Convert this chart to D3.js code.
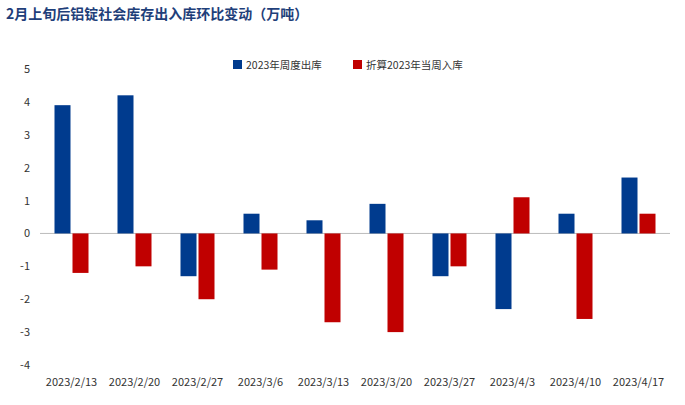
<!DOCTYPE html>
<html><head><meta charset="utf-8">
<script src="https://cdn.jsdelivr.net/npm/d3@7"></script>
<style>body{margin:0;background:#fff;font-family:"Noto Sans CJK SC","Noto Sans",sans-serif}</style>
</head><body><svg id="c" width="685" height="405"></svg>
<script>
const categories=["2023/2/13","2023/2/20","2023/2/27","2023/3/6","2023/3/13","2023/3/20","2023/3/27","2023/4/3","2023/4/10","2023/4/17"];
const outbound=[3.9,4.2,-1.3,0.6,0.4,0.9,-1.3,-2.3,0.6,1.7];
const inbound=[-1.2,-1.0,-2.0,-1.1,-2.7,-3.0,-1.0,1.1,-2.6,0.6];
const seriesNames=["2023年周度出库","折算2023年当周入库"];
const yTicks=[5,4,3,2,1,0,-1,-2,-3,-4];
const colors=["#003b8e","#c00000"];
const svg=d3.select("#c");
svg.append("text").attr("x",6).attr("y",19).attr("font-size",14).attr("font-weight","bold").attr("fill","#1f3f7a").text("2月上旬后铝锭社会库存出入库环比变动（万吨）");
const x=d3.scaleBand().domain(categories).range([40,670]);
const y=d3.scaleLinear().domain([-4,5]).range([365,69]);
svg.append("g").selectAll("text").data(yTicks).join("text").attr("x",30).attr("y",d=>y(d)+4).attr("text-anchor","end").attr("font-size",11).attr("fill","#333").text(d=>d);
svg.append("line").attr("x1",40).attr("x2",670).attr("y1",y(0)).attr("y2",y(0)).attr("stroke","#bbb");
const bw=16;
[outbound,inbound].forEach((arr,si)=>{
 svg.append("g").selectAll("rect").data(arr).join("rect")
 .attr("x",(d,i)=>x(categories[i])+x.bandwidth()/2+(si===0?-bw-1:1))
 .attr("width",bw).attr("y",d=>y(Math.max(0,d))).attr("height",d=>Math.abs(y(d)-y(0))).attr("fill",colors[si]);
});
svg.append("g").selectAll("text").data(categories).join("text").attr("x",d=>x(d)+x.bandwidth()/2).attr("y",386).attr("text-anchor","middle").attr("font-size",11).attr("fill","#333").text(d=>d);
const lg=[[233,seriesNames[0]],[353,seriesNames[1]]];
lg.forEach((l,i)=>{svg.append("rect").attr("x",l[0]).attr("y",60).attr("width",9).attr("height",9).attr("fill",colors[i]);
svg.append("text").attr("x",l[0]+13).attr("y",69).attr("font-size",10.5).attr("fill","#333").text(l[1]);});
</script></body></html>
